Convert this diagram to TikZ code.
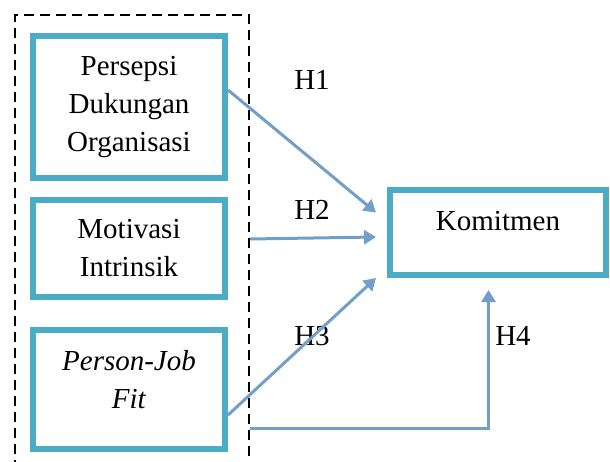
\documentclass[tikz,border=0pt]{standalone}
\usepackage{fontspec}
\setmainfont{Liberation Serif}
\usepackage{xcolor}
\usepackage{tikz}
\usetikzlibrary{arrows.meta,positioning}
\definecolor{boxteal}{RGB}{75,172,198}
\definecolor{arrowblue}{RGB}{114,159,201}

\begin{document}
\begin{tikzpicture}[x=1pt,y=-1pt,
        varnode/.style={rectangle, draw=boxteal, fill=white, line width=6pt, minimum width=192pt, inner sep=0pt, align=center, font=\fontsize{29}{38}\selectfont},
        depnode/.style={rectangle, draw=boxteal, fill=white, line width=6pt, minimum width=216pt, minimum height=85pt, inner sep=0pt, align=center, font=\fontsize{29}{38}\selectfont},
        hyplabel/.style={inner sep=0pt, font=\fontsize{29}{38}\selectfont},
        arrowline/.style={draw=arrowblue, line width=3pt, -{Triangle[length=12pt,width=14pt]}},
    ]
    \clip (0,0) rectangle (610,461);
    %Frame
    \draw[black, line width=2.5pt, dash pattern=on 10pt off 6pt] (15,470) -- (15,15) -- (249,15) -- (249,470);
    %Nodes
    \node[varnode, minimum height=142pt]  (persepsinode) at (129,107) {Persepsi\\Dukungan\\Organisasi};
    \node[varnode, minimum height=97pt]  (motivasinode)  [below=16pt of persepsinode] {Motivasi\\Intrinsik};
    \node[varnode, minimum height=119pt]  (fitnode)  [below=27pt of motivasinode] {\textit{Person-Job}\\\textit{Fit}\\[-18pt]\mbox{}};
    \node[depnode]  (komitmennode) at (498,232.5) {Komitmen\\[-14pt]\mbox{}};
    \node[hyplabel]  (hone) at (312,80) {H1};
    \node[hyplabel]  (htwo) at (312,210) {H2};
    \node[hyplabel]  (hthree) at (312,336) {H3};
    \node[hyplabel]  (hfour) at (513,336) {H4};
    %Lines
    \draw[arrowline] ([yshift=17pt]persepsinode.east) -- ([xshift=-11pt,yshift=20pt]komitmennode.west);
    \draw[arrowline] ([xshift=22pt,yshift=9.5pt]motivasinode.east) -- ([xshift=-11pt,yshift=-4.5pt]komitmennode.west);
    \draw[arrowline] ([yshift=-25.5pt]fitnode.east) -- ([xshift=-11pt]komitmennode.south west);
    \draw[arrowline] ([xshift=22pt,yshift=-38.5pt]fitnode.east) -| ([xshift=-9.5pt,yshift=-12pt]komitmennode.south);
\end{tikzpicture}
\end{document}
